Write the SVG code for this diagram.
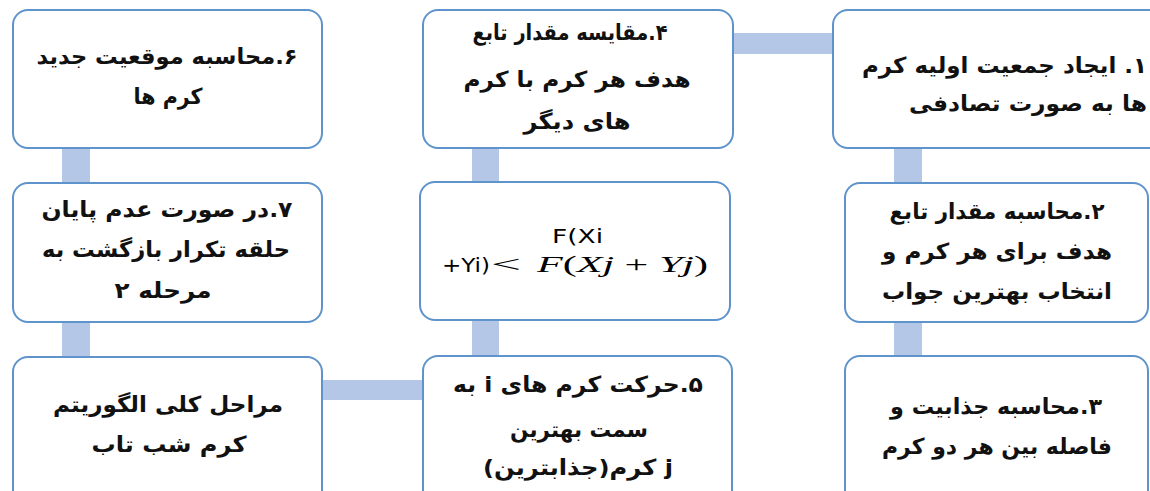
<svg xmlns="http://www.w3.org/2000/svg" width="1150" height="491" viewBox="0 0 1150 491">
<style>
.box{fill:#ffffff;stroke:#5f93cc;stroke-width:2}
.con{fill:#b4c7e7}
.fa{font-family:"DejaVu Sans",sans-serif;font-size:22px;font-weight:bold;fill:#111;direction:rtl;unicode-bidi:embed;text-anchor:middle}
.lat{font-family:"DejaVu Sans",sans-serif;font-size:20px;fill:#000}
.mth{font-family:"Liberation Serif",serif;font-style:italic;font-size:24px;fill:#000}
.up{font-style:normal}
</style>
<rect width="1150" height="491" fill="#ffffff"/>
<g id="connectors">
<rect class="con" x="62" y="147" width="28" height="37"/>
<rect class="con" x="62" y="321" width="28" height="37"/>
<rect class="con" x="321" y="380" width="103" height="20"/>
<rect class="con" x="472" y="319" width="27" height="38"/>
<rect class="con" x="472" y="147" width="27" height="36"/>
<rect class="con" x="732" y="33" width="102" height="21"/>
<rect class="con" x="894" y="147" width="28" height="37"/>
<rect class="con" x="894" y="321" width="28" height="36"/>
</g>
<g id="node6">
<rect class="box" x="13" y="10" width="309" height="138" rx="15"/>
<text class="fa" x="167" y="64" textLength="261" lengthAdjust="spacingAndGlyphs">۶.محاسبه موقعیت جدید</text>
<text class="fa" x="168" y="104" textLength="69" lengthAdjust="spacingAndGlyphs">کرم ها</text>
</g>
<g id="node7">
<rect class="box" x="13" y="183" width="309" height="139" rx="15"/>
<text class="fa" x="167" y="217" textLength="251" lengthAdjust="spacingAndGlyphs">۷.در صورت عدم پایان</text>
<text class="fa" x="166" y="257" textLength="248" lengthAdjust="spacingAndGlyphs">حلقه تکرار بازگشت به</text>
<text class="fa" x="163" y="298" textLength="97" lengthAdjust="spacingAndGlyphs">مرحله ۲</text>
</g>
<g id="node0">
<rect class="box" x="13" y="357" width="309" height="150" rx="15"/>
<text class="fa" x="168" y="412" textLength="230" lengthAdjust="spacingAndGlyphs">مراحل کلی الگوریتم</text>
<text class="fa" x="169" y="452" textLength="155" lengthAdjust="spacingAndGlyphs">کرم شب تاب</text>
</g>
<g id="node4">
<rect class="box" x="423" y="10" width="310" height="138" rx="15"/>
<text class="fa" x="570" y="40" textLength="195" lengthAdjust="spacingAndGlyphs">۴.مقایسه مقدار تابع</text>
<text class="fa" x="577" y="87" textLength="227" lengthAdjust="spacingAndGlyphs">هدف هر کرم با کرم</text>
<text class="fa" x="577" y="129" textLength="107" lengthAdjust="spacingAndGlyphs">های دیگر</text>
</g>
<g id="nodeF">
<rect class="box" x="420" y="182" width="310" height="138" rx="15"/>
<text class="lat" x="552" y="243" textLength="51" lengthAdjust="spacingAndGlyphs">F(Xi</text>
<text class="lat" x="442" y="272" textLength="48" lengthAdjust="spacingAndGlyphs">+Yi)</text>
<text class="mth up" x="491" y="272" textLength="30" lengthAdjust="spacingAndGlyphs">&lt;</text>
<text class="mth" x="537" y="272" textLength="171" lengthAdjust="spacingAndGlyphs">F<tspan class="up">(</tspan>Xj <tspan class="up">+ </tspan>Yj<tspan class="up">)</tspan></text>
</g>
<g id="node5">
<rect class="box" x="423" y="356" width="309" height="150" rx="15"/>
<text class="fa" x="578" y="392" textLength="250" lengthAdjust="spacingAndGlyphs">۵.حرکت کرم های i به</text>
<text class="fa" x="579" y="437" textLength="138" lengthAdjust="spacingAndGlyphs">سمت بهترین</text>
<text class="fa" x="578" y="475" textLength="190" lengthAdjust="spacingAndGlyphs">j کرم(جذابترین)</text>
</g>
<g id="node1">
<rect class="box" x="833" y="10" width="340" height="138" rx="15"/>
<text class="fa" x="1147" y="73" style="text-anchor:start" textLength="285" lengthAdjust="spacingAndGlyphs">۱. ایجاد جمعیت اولیه کرم</text>
<text class="fa" x="1147" y="111" style="text-anchor:start" textLength="238" lengthAdjust="spacingAndGlyphs">ها به صورت تصادفی</text>
</g>
<g id="node2">
<rect class="box" x="845" y="183" width="303" height="139" rx="15"/>
<text class="fa" x="997" y="219" textLength="215" lengthAdjust="spacingAndGlyphs">۲.محاسبه مقدار تابع</text>
<text class="fa" x="997" y="259" textLength="230" lengthAdjust="spacingAndGlyphs">هدف برای هر کرم و</text>
<text class="fa" x="997" y="299" textLength="230" lengthAdjust="spacingAndGlyphs">انتخاب بهترین جواب</text>
</g>
<g id="node3">
<rect class="box" x="845" y="356" width="303" height="150" rx="15"/>
<text class="fa" x="996" y="414" textLength="212" lengthAdjust="spacingAndGlyphs">۳.محاسبه جذابیت و</text>
<text class="fa" x="997" y="454" textLength="230" lengthAdjust="spacingAndGlyphs">فاصله بین هر دو کرم</text>
</g>
</svg>
